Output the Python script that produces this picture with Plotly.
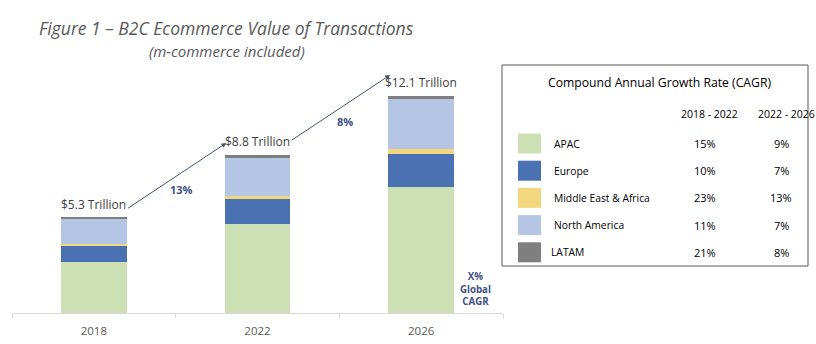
import plotly.graph_objects as go

W, H = 816, 344

# ---------------- data ----------------
years = ["2018", "2022", "2026"]
regions = ["APAC", "Europe", "Middle East & Africa", "North America", "LATAM"]
apac = [2.83, 4.95, 7.05]
europe = [0.92, 1.40, 1.85]
mea = [0.10, 0.20, 0.27]
north_america = [1.40, 2.13, 2.79]
latam = [0.05, 0.12, 0.14]
totals_label = [5.3, 8.8, 12.1]
global_cagr = ["13%", "8%"]
cagr_periods = ["2018 - 2022", "2022 - 2026"]
cagr_18_22 = ["15%", "10%", "23%", "11%", "21%"]
cagr_22_26 = ["9%", "7%", "13%", "7%", "8%"]

colors = ["#CCDFB5", "#4A72B2", "#F3D77E", "#B5C6E5", "#7F7F7F"]
series = [apac, europe, mea, north_america, latam]

FONT = "Open Sans"
NAVY = "#3E5186"
GREY_TXT = "#595959"


def px(x):
    return x / W


def py(y):
    return 1 - y / H


fig = go.Figure()
for name, vals, c in zip(regions, series, colors):
    fig.add_trace(go.Bar(x=years, y=vals, name=name, marker=dict(color=c, line=dict(width=0)),
                         showlegend=False, hoverinfo="skip"))

annotations = []
# total labels (x given as category index)
for i, t in enumerate(totals_label):
    annotations.append(dict(x=i, y=t, xref="x", yref="y", text=f"${t:.1f} Trillion",
                            showarrow=False, xanchor="center", yanchor="bottom", yshift=3,
                            font=dict(family=FONT, size=12, color="#404040")))

# growth arrows
tail_off = [0.5, 0.8]
head_off = [0.7, 1.2]
for i, g in enumerate(global_cagr):
    x0, y0 = i + 0.20, totals_label[i] + tail_off[i]
    x1, y1 = i + 0.81, totals_label[i + 1] + head_off[i]
    annotations.append(dict(x=x1, y=y1, ax=x0, ay=y0, xref="x", yref="y", axref="x", ayref="y",
                            text="", showarrow=True, arrowhead=2, arrowsize=1, arrowwidth=1,
                            arrowcolor="#44546A"))
    annotations.append(dict(x=(x0 + x1) / 2, y=(y0 + y1) / 2, xref="x", yref="y", text=f"<b>{g}</b>",
                            showarrow=False, xanchor="center", yanchor="middle", xshift=5, yshift=-13,
                            font=dict(family=FONT, size=11, color=NAVY)))


def note(x, y, text, size, color="#000000", xanchor="center", italic=False):
    annotations.append(dict(x=px(x), y=py(y), xref="paper", yref="paper", text=text, showarrow=False,
                            xanchor=xanchor, yanchor="middle",
                            font=dict(family=FONT, size=size, color=color,
                                      style="italic" if italic else "normal")))


note(475, 289, "<b>X%<br>Global<br>CAGR</b>", 9.7, NAVY)

# titles
note(226, 28, "Figure 1 – B2C Ecommerce Value of Transactions", 17.5, GREY_TXT, italic=True)
note(227, 51, "(m-commerce included)", 15, GREY_TXT, italic=True)

# CAGR table
shapes = [dict(type="rect", xref="paper", yref="paper", x0=px(502), x1=px(808), y0=py(65), y1=py(266),
               line=dict(color="#595959", width=1), fillcolor="rgba(0,0,0,0)")]
note(659, 82, "Compound Annual Growth Rate (CAGR)", 12.2)
for cx, p in zip([709, 786], cagr_periods):
    note(cx, 114, p, 10.5)
row0, step = 143.5, 27.2
for i, (r, a, b, c) in enumerate(zip(regions, cagr_18_22, cagr_22_26, colors)):
    yc = row0 + i * step
    shapes.append(dict(type="rect", xref="paper", yref="paper", x0=px(518), x1=px(541),
                       y0=py(yc - 10), y1=py(yc + 10), fillcolor=c, line=dict(width=0)))
    lx = 549 if r == "LATAM" else 552
    note(lx, yc, r, 10.3, xanchor="left")
    note(705, yc, a, 11)
    note(781, yc, b, 11)

y_top = 14.0
fig.update_layout(
    width=W, height=H, margin=dict(l=0, r=0, t=0, b=0),
    paper_bgcolor="white", plot_bgcolor="white",
    barmode="stack", bargap=0.60,
    xaxis=dict(domain=[px(12), px(503)], type="category", range=[-0.5, 2.5], autorange=False,
               showline=True, linecolor="#D9D9D9",
               ticks="outside", tickson="boundaries", ticklen=4, tickcolor="#D9D9D9",
               ticklabelstandoff=7,
               showgrid=False, tickfont=dict(family=FONT, size=11.5, color=GREY_TXT)),
    yaxis=dict(domain=[py(313), py(313 - y_top * 17.9)], range=[0, y_top], autorange=False,
               visible=False),
    annotations=annotations, shapes=shapes,
)

fig.write_html("out.html")
